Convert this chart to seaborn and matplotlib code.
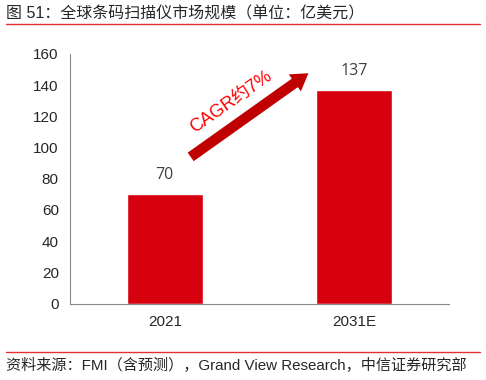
import matplotlib
matplotlib.use('Agg')
import matplotlib.pyplot as plt
import seaborn as sns
import pandas as pd

# chart data
years = ['2021', '2031E']
market_size = [70, 137]
yticks = [0, 20, 40, 60, 80, 100, 120, 140, 160]
title = '图 51：全球条码扫描仪市场规模（单位：亿美元）'
source = '资料来源：FMI（含预测），Grand View Research，中信证券研究部'
cagr_text = 'CAGR约7%'

sns.set_style('white')
plt.rcParams['font.family'] = ['Liberation Sans', 'Noto Sans CJK SC', 'DejaVu Sans']

df = pd.DataFrame({'year': years, 'size': market_size})

fig = plt.figure(figsize=(4.86, 3.8), dpi=100)
ax = fig.add_axes([0.144, 0.201, 0.78, 0.657])

sns.barplot(data=df, x='year', y='size', color='#D7000F', width=0.4,
            saturation=1, ax=ax)

for i, v in enumerate(market_size):
    ax.text(i, v + 7, str(v), ha='center', va='bottom', fontsize=11.5,
            color='#404040', family=['Open Sans', 'DejaVu Sans'])

ax.set_ylim(0, 160)
ax.set_yticks(yticks)
ax.set_xlim(-0.5, 1.5)
ax.set_xlabel('')
ax.set_ylabel('')
for s in ['top', 'right']:
    ax.spines[s].set_visible(False)
for s in ['left', 'bottom']:
    ax.spines[s].set_color('#888888')
    ax.spines[s].set_linewidth(0.8)
ax.set_xticks([-0.5, 0.5, 1.5], minor=True)
ax.tick_params(axis='x', which='major', length=0, labelsize=11, pad=8)
ax.tick_params(axis='x', which='minor', length=4, color='#888888', direction='out')
ax.tick_params(axis='y', length=4, color='#888888', direction='out', labelsize=11, pad=4)

# growth arrow
ax.annotate('', xy=(0.77, 148.7), xytext=(0.125, 93),
            arrowprops=dict(arrowstyle='simple,head_width=1.5,head_length=1.2,tail_width=0.75',
                            color='#C00000', lw=0))
ax.text(0.35, 129, cagr_text, rotation=35, color='#FF0000', fontsize=13,
        ha='center', va='center', rotation_mode='anchor')

# title, source and rules
fig.text(0.012, 0.963, title, fontsize=11.5, ha='left', va='center')
fig.add_artist(plt.Line2D([0.012, 0.988], [0.937, 0.937], color='#E03030', lw=1))
fig.add_artist(plt.Line2D([0.012, 0.988], [0.074, 0.074], color='#E03030', lw=1))
fig.text(0.012, 0.039, source, fontsize=10.9, ha='left', va='center')

fig.savefig('out.png', dpi=100)
